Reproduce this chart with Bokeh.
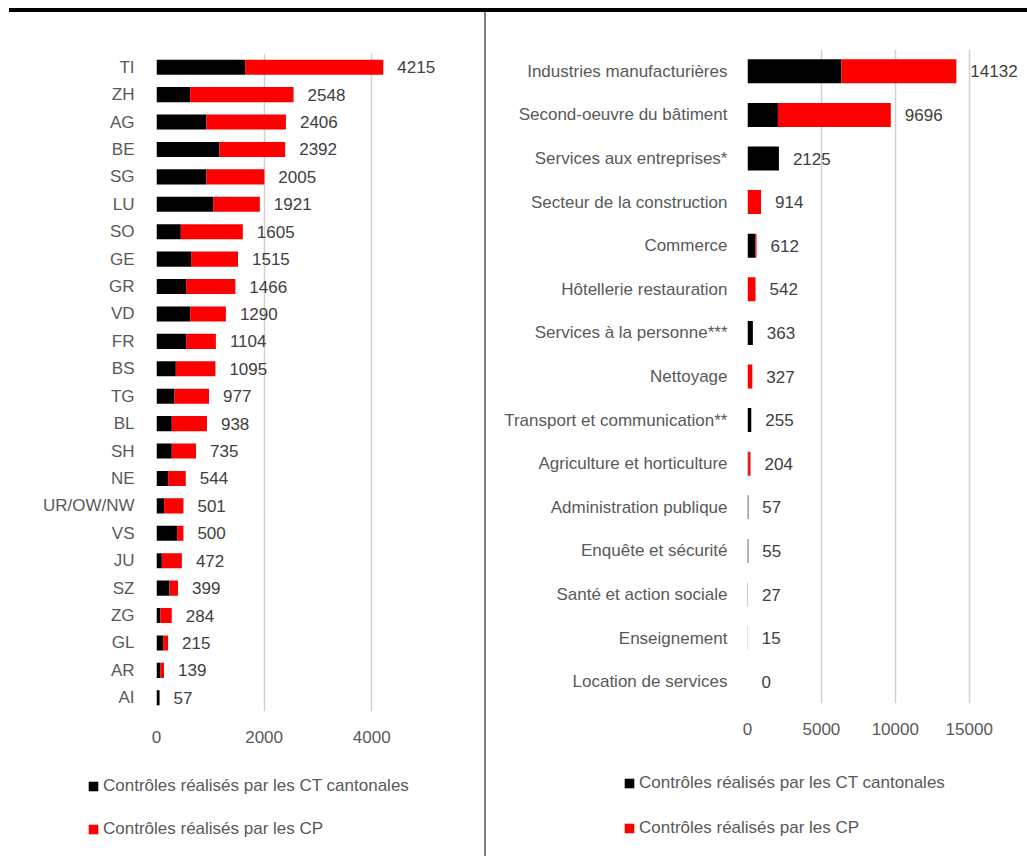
from bokeh.plotting import figure
from bokeh.models import (ColumnDataSource, FactorRange, Range1d, FixedTicker, Legend,
                          LegendItem, Div)
from bokeh.layouts import column, row
from bokeh.embed import file_html
from bokeh.resources import INLINE
from bokeh.core.properties import value

# ---------------- data ----------------
cantons = ["TI", "ZH", "AG", "BE", "SG", "LU", "SO", "GE", "GR", "VD", "FR", "BS",
           "TG", "BL", "SH", "NE", "UR/OW/NW", "VS", "JU", "SZ", "ZG", "GL", "AR", "AI"]
canton_ct = [1647, 625, 929, 1171, 929, 1052, 452, 643, 550, 625, 550, 359,
             335, 284, 284, 216, 141, 383, 99, 242, 74, 123, 74, 57]
canton_cp = [2568, 1923, 1477, 1221, 1076, 869, 1153, 872, 916, 665, 554, 736,
             642, 654, 451, 328, 360, 117, 373, 157, 210, 92, 65, 0]

secteurs = ["Industries manufacturières", "Second-oeuvre du bâtiment",
            "Services aux entreprises*", "Secteur de la construction", "Commerce",
            "Hôtellerie restauration", "Services à la personne***", "Nettoyage",
            "Transport et communication**", "Agriculture et horticulture",
            "Administration publique", "Enquête et sécurité", "Santé et action sociale",
            "Enseignement", "Location de services"]
secteur_ct = [6360, 2057, 2125, 0, 540, 0, 363, 0, 255, 60, 57, 55, 27, 15, 0]
secteur_cp = [7772, 7639, 0, 914, 72, 542, 0, 327, 0, 144, 0, 0, 0, 0, 0]

left_ticks = [0, 2000, 4000]
right_ticks = [0, 5000, 10000, 15000]
legend_labels = ["Contrôles réalisés par les CT cantonales", "Contrôles réalisés par les CP"]
series_colors = ["#000000", "#ff0000"]

FONT = "Liberation Sans"
AXIS_COLOR = "#595959"
LABEL_COLOR = "#404040"
GRID_COLOR = "#d0d0d0"


def make_source(cats, ct, cp):
    totals = [a + b for a, b in zip(ct, cp)]
    return ColumnDataSource(dict(cat=cats, ct=ct, total=totals,
                                 total_str=[str(t) for t in totals]))


def add_bars(p, src, visible=True):
    r_ct = p.hbar(y="cat", left=0, right="ct", height=0.55, source=src,
                  fill_color=series_colors[0], line_color=None, visible=visible)
    r_cp = p.hbar(y="cat", left="ct", right="total", height=0.55, source=src,
                  fill_color=series_colors[1], line_color=None, visible=visible)
    return [r_ct, r_cp]


def make_panel(cats, src, width, height, x_end, ticks, b_left, b_top, b_bottom,
               x_standoff, y_standoff):
    p = figure(width=width, height=height,
               y_range=FactorRange(factors=list(reversed(cats)), range_padding=0),
               x_range=Range1d(0, x_end),
               toolbar_location=None, output_backend="svg",
               min_border_left=b_left, min_border_right=0,
               min_border_top=b_top, min_border_bottom=b_bottom)
    p.frame_align = False
    p.outline_line_color = None
    p.background_fill_color = "white"
    p.border_fill_color = "white"

    add_bars(p, src)
    p.text(x="total", y="cat", text="total_str", source=src, x_offset=14,
           text_align="left", text_baseline="middle",
           text_font=value(FONT), text_font_size="17px", text_color=LABEL_COLOR)

    p.xaxis.ticker = FixedTicker(ticks=ticks)
    p.xgrid.ticker = FixedTicker(ticks=ticks)
    p.xgrid.grid_line_color = GRID_COLOR
    p.xgrid.grid_line_width = 1.5
    p.ygrid.grid_line_color = None

    for ax in (p.xaxis, p.yaxis):
        ax.axis_line_color = None
        ax.major_tick_line_color = None
        ax.minor_tick_line_color = None
        ax.major_tick_out = 0
        ax.major_tick_in = 0
        ax.major_label_text_font = FONT
        ax.major_label_text_font_size = "17px"
        ax.major_label_text_color = AXIS_COLOR
    p.yaxis.major_label_standoff = y_standoff
    p.xaxis.major_label_standoff = x_standoff
    return p


def make_legend(cats, src, width, height, loc, spacing):
    p = figure(width=width, height=height, toolbar_location=None, output_backend="svg",
               min_border=0, x_range=Range1d(0, 1),
               y_range=FactorRange(factors=list(reversed(cats))))
    p.frame_align = False
    p.outline_line_color = None
    p.axis.visible = False
    p.grid.visible = False
    rs = add_bars(p, src, visible=False)
    legend = Legend(items=[LegendItem(label=lab, renderers=[r])
                           for lab, r in zip(legend_labels, rs)],
                    location=loc, orientation="vertical",
                    glyph_width=12, glyph_height=12, label_standoff=4,
                    label_height=20, spacing=spacing, padding=0, margin=0,
                    background_fill_alpha=0, border_line_color=None,
                    inactive_fill_alpha=0,
                    label_text_font=FONT, label_text_font_size="17px",
                    label_text_color=AXIS_COLOR)
    p.add_layout(legend)
    return p


src_left = make_source(cantons, canton_ct, canton_cp)
src_right = make_source(secteurs, secteur_ct, secteur_cp)

left = make_panel(cantons, src_left, width=484, height=748,
                  x_end=328 * 2000 / 107.6, ticks=left_ticks,
                  b_left=156, b_top=41, b_bottom=49, x_standoff=19, y_standoff=22)
left_legend = make_legend(cantons, src_left, 484, 96, (87, 17), 23)

right = make_panel(secteurs, src_right, width=541, height=748,
                   x_end=280 * 5000 / 73.9, ticks=right_ticks,
                   b_left=261, b_top=37, b_bottom=57, x_standoff=19, y_standoff=20)
right_legend = make_legend(secteurs, src_right, 541, 96, (137, 18), 25)

top_line = Div(width=1018, height=4, margin=(8, 0, 0, 9),
               styles={"background-color": "#000000"})
divider = Div(width=2, height=844, margin=0, styles={"background-color": "#7f7f7f"})

layout = column(top_line,
                row(column(left, left_legend, spacing=0), divider,
                    column(right, right_legend, spacing=0), spacing=0),
                spacing=0)

open("out.html", "w").write(file_html(layout, INLINE))
